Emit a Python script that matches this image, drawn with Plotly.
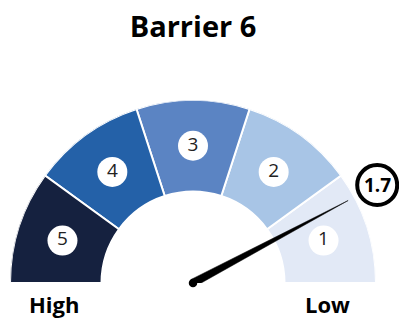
import math
import plotly.graph_objects as go

# ---- data ----
segment_labels = ["1", "2", "3", "4", "5"]
segment_colors = ["#e2e9f6", "#a8c5e6", "#5b84c3", "#2461a8", "#15213f"]
scale_min = 1
scale_max = 5.5
value = 1.7
value_label = "1.7"
title_text = "Barrier 6"
end_labels = ["High", "Low"]

# ---- derived angles ----
n = len(segment_labels)
span = 180.0 / n
def to_theta(v):
    return (v - scale_min) / (scale_max - scale_min) * 180.0

seg_theta = [span * (i + 0.5) for i in range(n)]
inner_r = 0.5
outer_r = 1.0

fig = go.Figure()

# gauge segments
fig.add_trace(go.Barpolar(
    r=[outer_r - inner_r] * n,
    base=[inner_r] * n,
    theta=seg_theta,
    width=[span] * n,
    marker=dict(color=segment_colors, line=dict(color="white", width=2)),
    hoverinfo="skip",
))

# segment label circles
fig.add_trace(go.Scatterpolar(
    r=[0.75] * n,
    theta=seg_theta,
    mode="markers+text",
    text=segment_labels,
    textposition="middle center",
    textfont=dict(family="Open Sans", size=19, color="#222222"),
    marker=dict(size=30, color="white"),
    hoverinfo="skip",
))

# needle
th = to_theta(value)
fig.add_trace(go.Scatterpolar(
    r=[0.022, 0.96, 0.022, 0.022],
    theta=[th + 90, th, th - 90, th + 90],
    mode="lines",
    fill="toself",
    fillcolor="black",
    line=dict(color="black", width=0.5),
    hoverinfo="skip",
))
fig.add_trace(go.Scatterpolar(
    r=[0.0],
    theta=[th],
    mode="markers",
    marker=dict(size=8.5, color="black"),
    hoverinfo="skip",
))

W, H = 399, 320
cx, cy, R = 193, 283, 183

# value badge position (derived from the value's angle)
badge_r = 1.14 * R
bx = cx + badge_r * math.cos(math.radians(th))
by = cy - badge_r * math.sin(math.radians(th))
br = 20

fig.update_layout(
    width=W, height=H,
    margin=dict(l=0, r=0, t=0, b=0),
    paper_bgcolor="white",
    plot_bgcolor="white",
    showlegend=False,
    font=dict(family="Open Sans"),
    title=dict(text="<b>" + title_text + "</b>", x=cx / W, xanchor="center",
               y=1 - 27 / H, yanchor="middle", yref="container",
               font=dict(family="Open Sans", size=29, color="black")),
    polar=dict(
        domain=dict(x=[(cx - R) / W, (cx + R) / W], y=[(H - cy) / H, (H - cy + R) / H]),
        sector=[0, 180],
        bgcolor="white",
        radialaxis=dict(range=[0, 1], visible=False, showgrid=False),
        angularaxis=dict(visible=False, showgrid=False, rotation=0, direction="counterclockwise"),
        bargap=0,
    ),
    shapes=[
        dict(type="circle", xref="paper", yref="paper",
             x0=(bx - br) / W, x1=(bx + br) / W,
             y0=1 - (by + br) / H, y1=1 - (by - br) / H,
             fillcolor="white", line=dict(color="black", width=4)),
    ],
    annotations=[
        dict(text="<b>" + value_label + "</b>", x=bx / W, y=1 - by / H,
             xref="paper", yref="paper", showarrow=False, xanchor="center", yanchor="middle",
             font=dict(family="Open Sans", size=19, color="black")),
        dict(text="<b>" + end_labels[0] + "</b>", x=(cx - 139) / W, y=0,
             xref="paper", yref="paper", showarrow=False, xanchor="center", yanchor="bottom",
             borderpad=0, font=dict(family="Open Sans", size=22, color="black")),
        dict(text="<b>" + end_labels[1] + "</b>", x=(cx + 134) / W, y=0,
             xref="paper", yref="paper", showarrow=False, xanchor="center", yanchor="bottom",
             borderpad=0, font=dict(family="Open Sans", size=22, color="black")),
    ],
)

fig.write_html("out.html", config={"displayModeBar": False},
               post_script="document.body.style.margin='0px';")
